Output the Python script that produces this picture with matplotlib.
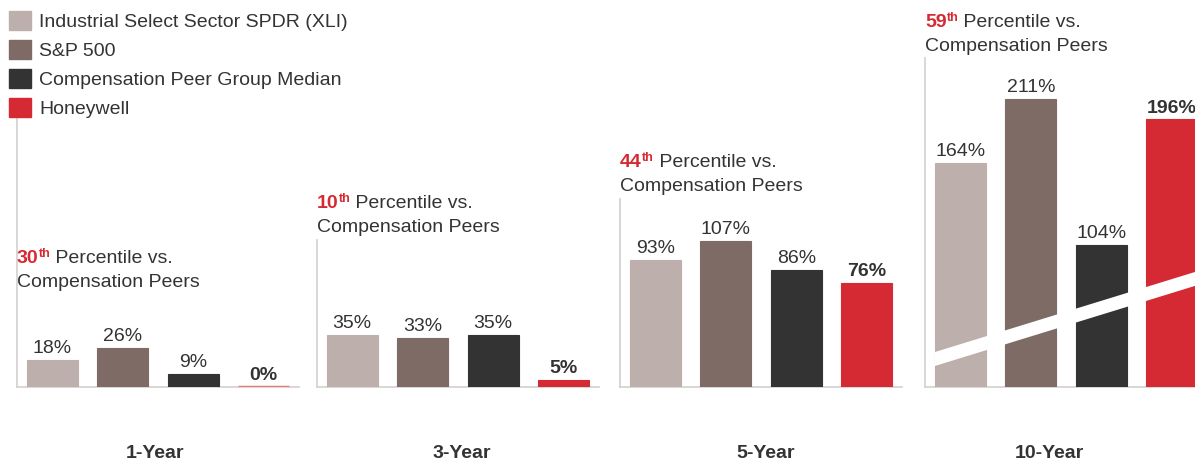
import numpy as np
import matplotlib
matplotlib.use('Agg')
import matplotlib.pyplot as plt
from matplotlib.patches import Patch, Polygon

plt.rcParams['font.family'] = ['Liberation Sans', 'DejaVu Sans']

# dados
series = ['Industrial Select Sector SPDR (XLI)', 'S&P 500',
          'Compensation Peer Group Median', 'Honeywell']
periodos = ['1-Year', '3-Year', '5-Year', '10-Year']
percentis = ['30', '10', '44', '59']
xli = [18, 35, 93, 164]
sp500 = [26, 33, 107, 211]
pares = [9, 35, 86, 104]
honeywell = [0, 5, 76, 196]

cores = ['#bdb0ac', '#7e6b65', '#333333', '#d52a33']
VERMELHO = '#d52a33'
TEXTO = '#333333'
EIXO = '#d3cfce'

# layout em pixels (a partir do topo)
W, H = 1195, 461
BASE = 387
esq = [17, 317, 620, 925]
topo = [118, 240, 199, 58]
escala = [1.5, 1.5, 1.365, 1.365]   # px por ponto percentual
linha1 = [263, 208, 167, 27]       # baseline da 1a linha do texto
rotulo_x = [155, 462, 766, 1049]
LARG = 282

fig = plt.figure(figsize=(W / 100, H / 100), dpi=100)

for i in range(4):
    alt = BASE - topo[i]
    ax = fig.add_axes([esq[i] / W, (H - BASE) / H, LARG / W, alt / H])
    vals = [xli[i], sp500[i], pares[i], honeywell[i]]
    x = np.arange(4)
    # barra de 0% aparece como um traço fino
    bordas = [cores[j] if v else '#e57d72' for j, v in enumerate(vals)]
    larguras = [0.8 if v else 2.5 for v in vals]
    ax.bar(x, vals, width=0.72, color=cores, edgecolor=bordas, linewidth=larguras, zorder=3)
    ax.set_xlim(-0.5, 3.5)
    ax.set_ylim(0, alt / escala[i])

    for s in ['top', 'right']:
        ax.spines[s].set_visible(False)
    for s in ['left', 'bottom']:
        ax.spines[s].set_color(EIXO)
        ax.spines[s].set_linewidth(1.2)
    ax.set_xticks([])
    ax.set_yticks([])
    ax.patch.set_alpha(0)

    # rotulos de valor
    for j, v in enumerate(vals):
        ax.annotate(f'{v}%', (x[j], v), xytext=(0, 5), textcoords='offset points',
                    ha='center', va='baseline', fontsize=14, color=TEXTO,
                    fontweight='bold' if j == 3 else 'normal', zorder=5)

    # faixa de quebra no 10 anos
    if i == 3:
        x0, x1 = -0.36, 3.6
        inc = 15.9
        faixa = Polygon([(x0, 15.4), (x1, 15.4 + inc * (x1 - x0)),
                         (x1, 25.6 + inc * (x1 - x0)), (x0, 25.6)],
                        closed=True, facecolor='white', edgecolor='none', zorder=4)
        ax.add_patch(faixa)

    # texto do percentil
    t1 = ax.annotate(percentis[i], xy=(esq[i], H - linha1[i]), xycoords='figure pixels',
                     ha='left', va='baseline', fontsize=14, color=VERMELHO,
                     fontweight='bold')
    t2 = ax.annotate('th', xy=(1, 1), xycoords=t1, xytext=(0, 1.5),
                     textcoords='offset points', ha='left', va='top',
                     fontsize=9, color=VERMELHO, fontweight='bold')
    ax.annotate(' Percentile vs.', xy=(1, 0), xycoords=(t2, t1), ha='left',
                va='bottom', fontsize=14, color=TEXTO)
    ax.annotate('Compensation Peers', xy=(esq[i], H - linha1[i] - 24),
                xycoords='figure pixels', ha='left', va='baseline',
                fontsize=14, color=TEXTO)

    # periodo
    ax.annotate(periodos[i], xy=(rotulo_x[i], H - 458), xycoords='figure pixels',
                ha='center', va='baseline', fontsize=14, fontweight='bold',
                color=TEXTO)

handles = [Patch(facecolor=c, edgecolor=c) for c in cores]
fig.legend(handles, series, loc='upper left', bbox_to_anchor=(9 / W, 1 - 11 / H),
           frameon=False, fontsize=14, labelcolor=TEXTO, handlelength=1.13,
           handleheight=1.13, handletextpad=0.41, labelspacing=0.46,
           borderpad=0, borderaxespad=0)

fig.savefig('out.png', dpi=100)
